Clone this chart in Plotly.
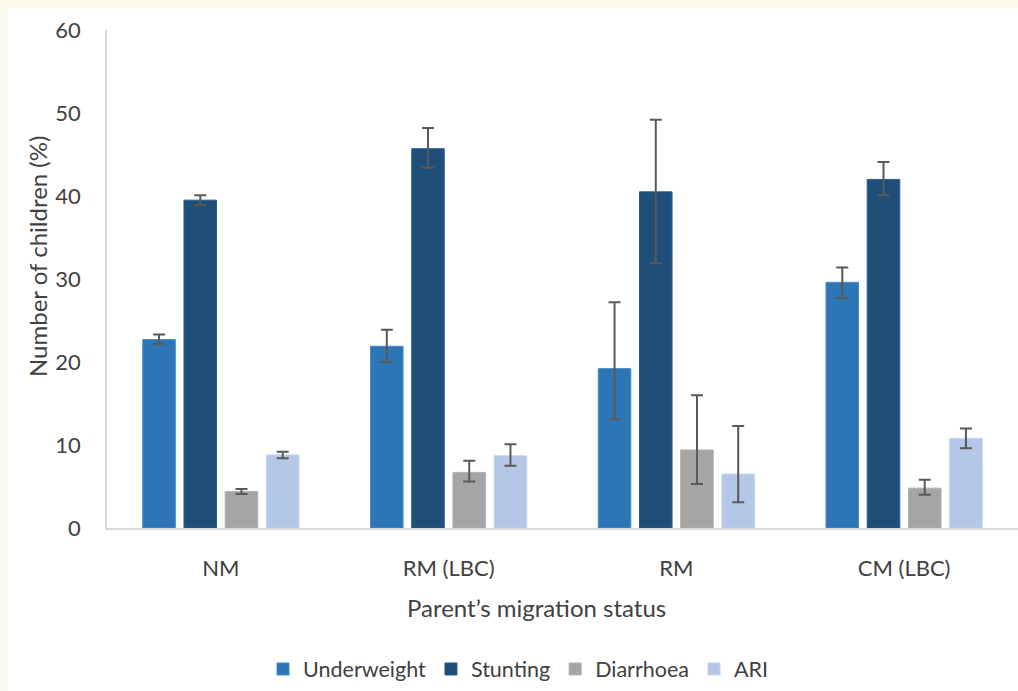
import plotly.graph_objects as go

categories = ["NM", "RM (LBC)", "RM", "CM (LBC)"]
series_names = ["Underweight", "Stunting", "Diarrhoea", "ARI"]

underweight = [22.7, 21.9, 19.2, 29.6]
underweight_plus = [0.6, 2.0, 8.0, 1.8]
underweight_minus = [0.5, 1.9, 6.1, 1.9]

stunting = [39.5, 45.7, 40.5, 42.0]
stunting_plus = [0.6, 2.5, 8.7, 2.1]
stunting_minus = [0.6, 2.3, 8.6, 1.9]

diarrhoea = [4.4, 6.7, 9.4, 4.8]
diarrhoea_plus = [0.3, 1.4, 6.6, 1.0]
diarrhoea_minus = [0.3, 1.1, 4.1, 0.8]

ari = [8.8, 8.7, 6.5, 10.8]
ari_plus = [0.4, 1.4, 5.8, 1.2]
ari_minus = [0.4, 1.2, 3.4, 1.2]

colors = ["#2E75B6", "#1F4E79", "#A5A5A5", "#B4C7E7"]
edge_colors = ["#4a8ac6", "#2a5c8a", "#b0b0b0", "#c3d3ee"]

values = [underweight, stunting, diarrhoea, ari]
plus = [underweight_plus, stunting_plus, diarrhoea_plus, ari_plus]
minus = [underweight_minus, stunting_minus, diarrhoea_minus, ari_minus]

FONT = "Lato"
TEXT = "#404040"
PAGE_BG = "#fcf9ed"

# the figure sits 8px from the top-left of the 1018x691 window and fills the rest
W, H = 1010, 683
L, R, T, B = 99, 0, 22, 163
PW, PH = W - L - R, H - T - B

def px_x(p):
    return (p - L) / PW

def px_y(p):
    return (H - B - p) / PH

fig = go.Figure()
for name, v, ep, em, c, ec in zip(series_names, values, plus, minus, colors, edge_colors):
    fig.add_trace(go.Bar(
        name=name, x=categories, y=v,
        marker=dict(color=c, line=dict(color=ec, width=1)),
        error_y=dict(type="data", symmetric=False, array=ep, arrayminus=em,
                     color="#595959", thickness=2, width=6),
    ))

fig.update_layout(
    width=W, height=H,
    margin=dict(l=L, r=R, t=T, b=B),
    paper_bgcolor="white", plot_bgcolor="white",
    barmode="group", bargap=0.276, bargroupgap=0.21,
    font=dict(family=FONT, color=TEXT),
    showlegend=True,
    legend=dict(orientation="h", x=px_x(255), xanchor="left", y=px_y(661), yanchor="middle",
                font=dict(size=21.5, family=FONT, color=TEXT), itemwidth=30,
                bgcolor="rgba(0,0,0,0)"),
    xaxis=dict(range=[-0.5, 3.5], showgrid=False, zeroline=False,
               showline=True, linecolor="#d9d9d9", linewidth=2,
               tickfont=dict(size=22, family=FONT, color=TEXT), ticks="",
               ticklabelstandoff=20),
    yaxis=dict(range=[0, 60], dtick=10, showgrid=False, zeroline=False,
               showline=True, linecolor="#d9d9d9", linewidth=1.5,
               tickfont=dict(size=22, family=FONT, color=TEXT), ticks="",
               ticklabelstandoff=20),
    annotations=[
        dict(text="Number of children (%)", xref="paper", yref="paper",
             x=px_x(29), y=px_y(249), textangle=-90, showarrow=False,
             xanchor="center", yanchor="middle",
             font=dict(size=24, family=FONT, color=TEXT)),
        dict(text="Parent\u2019s migration status", xref="paper", yref="paper",
             x=px_x(528), y=px_y(599), showarrow=False,
             xanchor="center", yanchor="middle",
             font=dict(size=24, family=FONT, color=TEXT)),
    ],
)

fig.write_html(
    "out.html",
    post_script=(
        "document.body.style.background='" + PAGE_BG + "';"
        "document.body.style.margin='8px 0 0 8px';"
        "document.body.style.overflow='hidden';"
    ),
)
